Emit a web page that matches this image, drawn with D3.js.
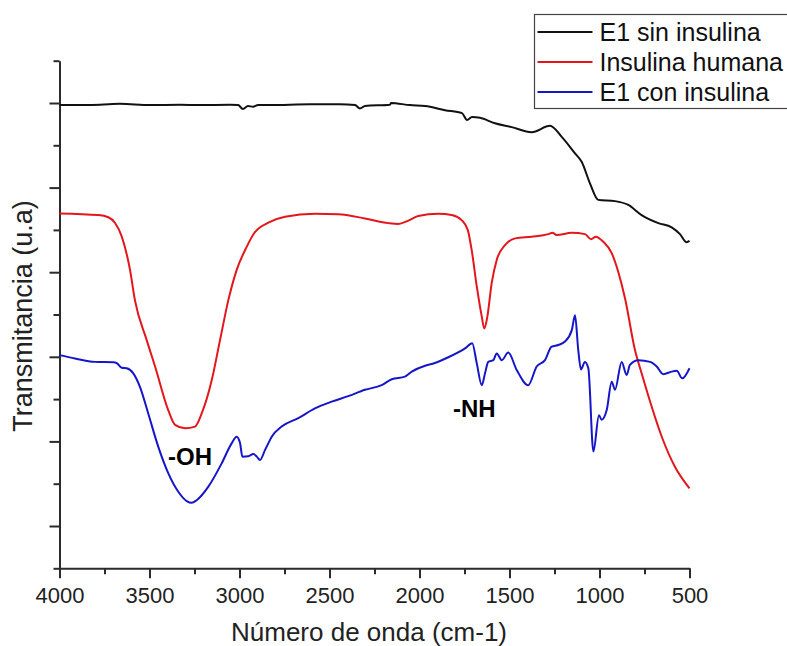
<!DOCTYPE html>
<html>
<head>
<meta charset="utf-8">
<script src="https://cdn.jsdelivr.net/npm/d3@7"></script>
<style>
    body { margin: 0; background: #fff; }
    svg { display: block; font-family: "Liberation Sans", Arial, sans-serif; }
    .axis path, .axis line { stroke: #2b2b2b; stroke-width: 2px; }
    .axis text { fill: #222; font-size: 22px; font-family: "Liberation Sans", Arial, sans-serif; }
    .line { fill: none; stroke-width: 2px; stroke-linejoin: round; }
</style>
</head>
<body>
<svg id="ftir" width="787" height="646"></svg>
<script>
// FTIR spectra: [wavenumber cm-1, transmittance (u.a)]
var e1SinInsulina = [
    [4000, 10.95], [3775, 10.96], [3664, 10.98], [3497, 10.95], [3331, 10.96], [3219, 10.95],
    [3053, 10.96], [3008, 10.95], [2981, 10.86], [2953, 10.93], [2925, 10.91], [2897, 10.95],
    [2831, 10.95], [2608, 10.97], [2442, 10.97], [2358, 10.95], [2331, 10.87], [2303, 10.93],
    [2164, 10.96], [2158, 11.0], [2053, 10.95], [1969, 10.93], [1858, 10.83], [1764, 10.76],
    [1736, 10.60], [1708, 10.67], [1664, 10.65], [1581, 10.52], [1488, 10.43], [1377, 10.31],
    [1275, 10.46], [1210, 10.20], [1136, 9.81], [1099, 9.61], [1053, 9.10], [1007, 8.71],
    [914, 8.68], [840, 8.59], [766, 8.35], [673, 8.16], [599, 8.06], [553, 7.90], [516, 7.71],
    [500, 7.74]
];

var insulinaHumana = [
    [4000, 8.39], [3784, 8.35], [3729, 8.30], [3692, 8.17], [3654, 7.84], [3608, 7.05],
    [3581, 6.34], [3516, 5.40], [3469, 4.77], [3396, 3.74], [3358, 3.39], [3303, 3.31],
    [3247, 3.35], [3210, 3.66], [3154, 4.45], [3108, 5.40], [3062, 6.34], [3016, 7.05],
    [2960, 7.60], [2919, 7.92], [2840, 8.17], [2747, 8.31], [2581, 8.38], [2451, 8.37],
    [2303, 8.27], [2173, 8.16], [2118, 8.14], [2062, 8.22], [2007, 8.33], [1896, 8.38],
    [1821, 8.35], [1766, 8.23], [1732, 8.00], [1710, 7.52], [1682, 6.67], [1654, 5.95],
    [1640, 5.67], [1623, 5.95], [1599, 6.74], [1571, 7.29], [1525, 7.64], [1469, 7.80],
    [1377, 7.84], [1284, 7.90], [1262, 7.93], [1238, 7.88], [1154, 7.93], [1081, 7.90],
    [1047, 7.78], [1021, 7.84], [979, 7.72], [932, 7.45], [896, 7.01], [858, 6.38],
    [803, 5.16], [766, 4.61], [710, 3.82], [654, 3.11], [581, 2.40], [500, 1.89]
];

var e1ConInsulina = [
    [4000, 5.04], [3914, 4.96], [3803, 4.88], [3701, 4.87], [3682, 4.85], [3654, 4.74],
    [3627, 4.73], [3590, 4.61], [3553, 4.29], [3507, 3.66], [3451, 2.87], [3396, 2.25],
    [3340, 1.81], [3293, 1.59], [3266, 1.55], [3238, 1.61], [3173, 1.93], [3099, 2.48],
    [3043, 2.96], [3016, 3.11], [2997, 2.96], [2984, 2.64], [2951, 2.65], [2923, 2.70],
    [2904, 2.64], [2886, 2.56], [2858, 2.80], [2831, 3.03], [2821, 3.11], [2766, 3.35],
    [2673, 3.55], [2581, 3.78], [2488, 3.94], [2396, 4.07], [2303, 4.22], [2210, 4.33],
    [2154, 4.47], [2081, 4.53], [2043, 4.65], [1969, 4.79], [1932, 4.83], [1840, 4.99],
    [1747, 5.20], [1707, 5.32], [1682, 4.85], [1654, 4.33], [1636, 4.61], [1618, 4.88],
    [1590, 4.92], [1571, 5.08], [1543, 4.92], [1507, 5.10], [1460, 4.69], [1396, 4.33],
    [1349, 4.77], [1303, 4.92], [1266, 5.24], [1229, 5.28], [1192, 5.36], [1154, 5.63],
    [1136, 5.98], [1118, 5.16], [1103, 4.70], [1081, 4.88], [1062, 4.73], [1034, 2.76],
    [1003, 3.62], [988, 3.51], [960, 3.74], [932, 4.41], [914, 4.22], [877, 4.88],
    [849, 4.57], [831, 4.81], [784, 4.92], [719, 4.88], [682, 4.77], [646, 4.59],
    [599, 4.65], [571, 4.67], [540, 4.49], [500, 4.73]
];

var seriesNames = ["E1 sin insulina", "Insulina humana", "E1 con insulina"];
var seriesColors = ["#111111", "#e3161c", "#1616c8"];
var xMajorTicks = [4000, 3500, 3000, 2500, 2000, 1500, 1000, 500];
var xMinorTicks = [3750, 3250, 2750, 2250, 1750, 1250, 750];
var yMajorTicks = [1, 3, 5, 7, 9, 11];
var yMinorTicks = [0, 2, 4, 6, 8, 10, 12];
var bandLabels = [
    { text: "-OH", wn: 3397, t: 2.44 },
    { text: "-NH", wn: 1814, t: 3.58 }
];

function spectraChart() {
    var svg = d3.select("#ftir"),
        margin = { top: 60.7, left: 59.5 },
        width = 630,
        height = 507.6;

    var x = d3.scaleLinear().domain([4000, 500]).range([0, width]),
        y = d3.scaleLinear().domain([0, 12]).range([height, 0]);

    var g = svg.append("g")
        .attr("transform", "translate(" + margin.left + "," + margin.top + ")");

    // axes: long ticks carry labels, short ones sit in between
    g.append("g")
        .attr("class", "axis axis--x")
        .attr("transform", "translate(0," + height + ")")
        .call(d3.axisBottom(x).tickValues(xMinorTicks).tickSize(6).tickFormat(""))
        .select(".domain").remove();
    g.append("g")
        .attr("class", "axis axis--x")
        .attr("transform", "translate(0," + height + ")")
        .call(d3.axisBottom(x).tickValues(xMajorTicks).tickSize(10).tickSizeOuter(0).tickPadding(9).tickFormat(d3.format("d")));

    g.append("g")
        .attr("class", "axis axis--y")
        .call(d3.axisLeft(y).tickValues(yMinorTicks).tickSize(6).tickFormat(""))
        .select(".domain").remove();
    g.append("g")
        .attr("class", "axis axis--y")
        .call(d3.axisLeft(y).tickValues(yMajorTicks).tickSize(10).tickSizeOuter(0).tickFormat(""));

    var line = d3.line()
        .x(d => x(d[0]))
        .y(d => y(d[1]))
        .curve(d3.curveMonotoneX);

    [e1SinInsulina, insulinaHumana, e1ConInsulina].forEach((datum, i) => {
        g.append("path")
            .datum(datum)
            .attr("class", "line")
            .attr("stroke", seriesColors[i])
            .attr("d", line);
    });

    // band annotations
    g.selectAll(".band")
        .data(bandLabels)
        .enter().append("text")
        .attr("class", "band")
        .attr("x", d => x(d.wn))
        .attr("y", d => y(d.t))
        .attr("font-size", "24px")
        .attr("font-weight", "bold")
        .attr("fill", "#000")
        .text(d => d.text);

    // axis titles
    svg.append("text")
        .attr("x", 369)
        .attr("y", 641)
        .attr("text-anchor", "middle")
        .attr("font-size", "26px")
        .attr("fill", "#222")
        .text("Número de onda (cm-1)");

    svg.append("text")
        .attr("transform", "translate(32,316) rotate(-90)")
        .attr("text-anchor", "middle")
        .attr("font-size", "27px")
        .attr("fill", "#222")
        .text("Transmitancia (u.a)");

    // legend
    var legend = svg.append("g").attr("transform", "translate(534.5,14.5)");
    legend.append("rect")
        .attr("width", 262)
        .attr("height", 94)
        .attr("fill", "#fff")
        .attr("stroke", "#444")
        .attr("stroke-width", 1.2);

    seriesNames.forEach((name, i) => {
        var row = legend.append("g").attr("transform", "translate(0," + (17.5 + i * 30) + ")");
        row.append("line")
            .attr("x1", 3)
            .attr("x2", 58)
            .attr("stroke", seriesColors[i])
            .attr("stroke-width", 2);
        row.append("text")
            .attr("x", 65)
            .attr("y", 8.5)
            .attr("font-size", "25px")
            .attr("fill", "#111")
            .text(name);
    });
}

spectraChart();
</script>
</body>
</html>
